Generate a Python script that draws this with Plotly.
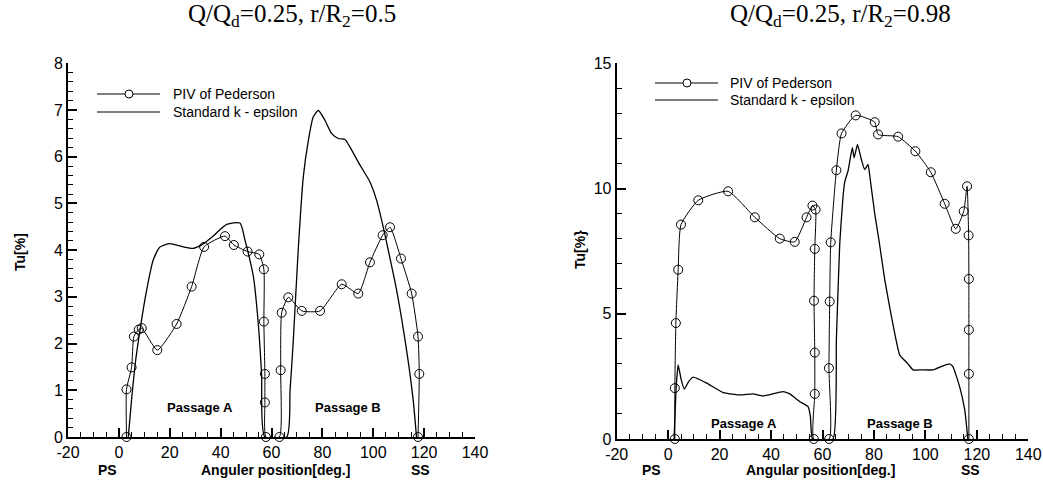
import plotly.graph_objects as go

# ---------------- data: left panel (r/R2 = 0.5) ----------------
piv_l_x = [3.0, 3.0, 5.0, 5.9, 7.8, 9.0, 15.1, 22.7, 28.6, 33.5, 41.7, 45.2, 50.6, 55.2,
           57.0, 57.0, 57.4, 57.4, 57.8, 63.1, 63.6, 64.0, 66.6, 71.9, 79.1, 87.6, 94.1,
           98.7, 103.7, 106.6, 110.9, 115.1, 117.6, 118.1, 117.6]
piv_l_y = [0, 1.02, 1.49, 2.15, 2.30, 2.33, 1.86, 2.42, 3.22, 4.07, 4.30, 4.11, 3.97, 3.91,
           3.59, 2.47, 1.35, 0.74, 0, 0, 1.43, 2.66, 2.99, 2.70, 2.70, 3.27, 3.07,
           3.74, 4.32, 4.49, 3.82, 3.07, 2.15, 1.35, 0]

ke_l_x = [3.7, 5.0, 6.5, 8.3, 10.9, 13.5, 16.2, 20.0, 25.3, 29.3, 33.3, 37.0, 42.4, 47.6,
          49.6, 50.9, 52.9, 54.8, 56.1, 57.4, 66.0, 67.3, 68.5, 70.5, 72.5, 74.5, 76.4,
          78.4, 81.0, 83.6, 86.3, 88.9, 90.8, 94.8, 98.7, 101.3, 103.9, 105.9, 109.2,
          113.1, 115.7, 117.0]
ke_l_y = [0, 0.8, 1.6, 2.29, 3.14, 3.79, 4.07, 4.14, 4.07, 4.04, 4.14, 4.30, 4.55, 4.58,
          4.21, 3.93, 3.43, 2.43, 1.36, 0, 0, 1.0, 2.0, 4.0, 5.57, 6.35, 6.85,
          6.99, 6.78, 6.50, 6.39, 6.37, 6.21, 5.82, 5.46, 5.07, 4.50, 4.00, 3.14,
          1.86, 0.79, 0]

# ---------------- data: right panel (r/R2 = 0.98) ----------------
piv_r_x = [2.6, 2.6, 3.0, 3.9, 5.0, 11.7, 23.3, 33.7, 43.4, 49.2, 53.8, 56.1, 57.3, 57.0,
           56.7, 57.0, 57.0, 56.6, 62.6, 62.5, 62.8, 63.2, 65.4, 67.4, 72.9, 80.3, 81.6,
           89.4, 96.1, 102.1, 107.5, 111.8, 114.9, 116.2, 116.8, 116.9, 116.9, 116.9, 116.9]
piv_r_y = [0, 2.03, 4.63, 6.76, 8.56, 9.53, 9.89, 8.85, 8.00, 7.87, 8.85, 9.32, 9.16, 7.59,
           5.52, 3.45, 1.80, 0, 0, 2.83, 5.49, 7.85, 10.73, 12.20, 12.92, 12.65, 12.16,
           12.07, 11.49, 10.65, 9.39, 8.39, 9.09, 10.09, 8.13, 6.39, 4.36, 2.60, 0]

ke_r_x = [2.3, 3.2, 3.9, 5.0, 6.3, 8.0, 9.8, 15.0, 21.4, 27.9, 33.1, 36.9, 44.7, 47.3,
          51.2, 54.4, 55.3, 56.1, 64.1, 65.4, 66.7, 68.0, 68.7, 69.9, 71.6, 72.3, 73.6,
          75.1, 76.4, 77.7, 78.4, 80.3, 82.0, 84.2, 86.8, 90.0, 93.2, 95.2, 99.1, 103.0,
          106.8, 109.4, 110.7, 113.3, 115.3, 116.5]
ke_r_y = [0, 2.2, 2.96, 2.4, 1.99, 2.3, 2.47, 2.23, 1.85, 1.76, 1.80, 1.72, 1.89, 1.80,
          1.49, 1.29, 0.89, 0, 0, 4.0, 7.8, 9.7, 10.29, 10.69, 11.63, 11.23, 11.76,
          11.16, 10.76, 10.96, 10.49, 9.0, 7.9, 6.36, 4.89, 3.36, 3.0, 2.76, 2.76, 2.76,
          2.92, 3.0, 2.89, 2.09, 1.16, 0]

x_ticks = [-20, 0, 20, 40, 60, 80, 100, 120, 140]
x_ticktext = [str(v) for v in x_ticks]
titles = ["Q/Q<sub>d</sub>=0.25, r/R<sub>2</sub>=0.5", "Q/Q<sub>d</sub>=0.25, r/R<sub>2</sub>=0.98"]
xlabels = ["Anguler position[deg.]", "Angular position[deg.]"]
ylabels = ["Tu[%]", "Tu[%}"]
legend_names = ["PIV of Pederson", "Standard k - epsilon"]

W, H = 1043, 486
SANS = "Liberation Sans, Arial, sans-serif"
SERIF = "Liberation Serif, Times New Roman, serif"


def fx(px):
    return px / W


def fy(py):
    return (H - py) / H


fig = go.Figure()


def add_panel(px, py, kx, ky, xa, ya, smooth_piv, smooth_ke):
    fig.add_trace(go.Scatter(x=kx, y=ky, mode="lines", xaxis=xa, yaxis=ya,
                             line=dict(color="black", width=1.3, shape="spline", smoothing=smooth_ke),
                             cliponaxis=False, showlegend=False, name=legend_names[1]))
    fig.add_trace(go.Scatter(x=px, y=py, mode="lines+markers", xaxis=xa, yaxis=ya,
                             line=dict(color="black", width=1, shape="spline", smoothing=smooth_piv),
                             marker=dict(symbol="circle-open", size=9, color="black", line=dict(width=1)),
                             cliponaxis=False, showlegend=False, name=legend_names[0]))


add_panel(piv_l_x, piv_l_y, ke_l_x, ke_l_y, "x", "y", 0.5, 0.6)
add_panel(piv_r_x, piv_r_y, ke_r_x, ke_r_y, "x2", "y2", 0.5, 0.4)

axis_common = dict(showline=True, linewidth=2, linecolor="black", ticks="inside",
                   ticklen=9, tickwidth=2, tickcolor="black", showgrid=False, zeroline=False,
                   automargin=False,
                   tickfont=dict(family=SANS, size=16, color="black"))

# window-pixel geometry of plot areas
L = dict(x0=68, x1=475, ytop=63.3, ybot=437)
R = dict(x0=616.7, x1=1028.3, ytop=63.3, ybot=439)


def xdom(p):
    return [fx(p["x0"]), fx(p["x1"])]


def ydom(p):
    return [fy(p["ybot"]), fy(p["ytop"])]


fig.update_layout(
    template="none",
    width=W, height=H, margin=dict(l=0, r=0, t=0, b=0, pad=0, autoexpand=False),
    paper_bgcolor="white", plot_bgcolor="white", showlegend=False,
    xaxis=dict(domain=xdom(L), range=[-20, 140], tickvals=x_ticks, ticktext=x_ticktext, anchor="y",
               minor=dict(ticks="inside", ticklen=5, tickwidth=1, tickcolor="black", dtick=5, tick0=0),
               **axis_common),
    yaxis=dict(domain=ydom(L), range=[0, 8], dtick=1, anchor="x",
               minor=dict(ticks="inside", ticklen=5, tickwidth=1, tickcolor="black", dtick=0.2, tick0=0),
               **axis_common),
    xaxis2=dict(domain=xdom(R), range=[-20, 140], tickvals=x_ticks, ticktext=x_ticktext, anchor="y2",
                minor=dict(ticks="inside", ticklen=5, tickwidth=1, tickcolor="black", dtick=5, tick0=0),
                **axis_common),
    yaxis2=dict(domain=ydom(R), range=[0, 15], dtick=5, anchor="x2",
                minor=dict(ticks="inside", ticklen=5, tickwidth=1, tickcolor="black", dtick=1, tick0=0),
                **axis_common),
)

ann = []
shapes = []

# titles
for cx, t in zip([292, 840], titles):
    ann.append(dict(text=t, x=fx(cx), y=fy(16), xref="paper", yref="paper",
                    xanchor="center", yanchor="middle", showarrow=False,
                    font=dict(family=SERIF, size=25, color="black")))

# y axis titles
for cx, cy, t in zip([20, 580], [252, 250], ylabels):
    ann.append(dict(text="<b>%s</b>" % t, x=fx(cx), y=fy(cy), xref="paper", yref="paper",
                    textangle=-90, xanchor="center", yanchor="middle", showarrow=False,
                    font=dict(family=SANS, size=14, color="black")))

# x axis titles and PS / SS
bottom = [(107, "PS"), (275, xlabels[0]), (420, "SS"), (651, "PS"), (820, xlabels[1]), (970, "SS")]
for cx, t in bottom:
    ann.append(dict(text="<b>%s</b>" % t, x=fx(cx), y=fy(470), xref="paper", yref="paper",
                    xanchor="center", yanchor="middle", showarrow=False,
                    font=dict(family=SANS, size=14, color="black")))

# passage labels (data coordinates)
for xa, ya, px, py, t in [("x", "y", 32, 0.64, "Passage A"), ("x", "y", 90, 0.63, "Passage B"),
                          ("x2", "y2", 29.5, 0.6, "Passage A"), ("x2", "y2", 90, 0.6, "Passage B")]:
    ann.append(dict(text="<b>%s</b>" % t, x=px, y=py, xref=xa, yref=ya, xanchor="center",
                    yanchor="middle", showarrow=False, font=dict(family=SANS, size=13, color="black")))


# manual legends (window pixel positions)
def legend(p, xr, yr, lx0, lx1, mx, y1, y2, tx):
    def dx(v):
        return (v - p["x0"]) / (p["x1"] - p["x0"])

    def dy(v):
        return (p["ybot"] - v) / (p["ybot"] - p["ytop"])

    for yy in (y1, y2):
        shapes.append(dict(type="line", xref=xr + " domain", yref=yr + " domain",
                           x0=dx(lx0), x1=dx(lx1), y0=dy(yy), y1=dy(yy),
                           line=dict(color="black", width=1)))
    shapes.append(dict(type="circle", xref=xr + " domain", yref=yr + " domain",
                       xsizemode="pixel", ysizemode="pixel", xanchor=dx(mx), yanchor=dy(y1),
                       x0=-4, x1=4, y0=-4, y1=4, fillcolor="white",
                       line=dict(color="black", width=1)))
    for yy, name in zip((y1, y2), legend_names):
        ann.append(dict(text=name, x=dx(tx), y=dy(yy), xref=xr + " domain", yref=yr + " domain",
                        xanchor="left", yanchor="middle", showarrow=False,
                        font=dict(family=SANS, size=14, color="black")))


legend(L, "x", "y", 97, 160, 129, 94, 112, 171)
legend(R, "x2", "y2", 655, 718, 687, 83, 100, 728)

fig.update_layout(annotations=ann, shapes=shapes)
# remove the default 8 px page margin so the 1043x486 figure fills the window exactly
fig.write_html("out.html",
               config={"displayModeBar": False, "staticPlot": False},
               post_script="document.body.style.margin='0';document.body.style.overflow='hidden';")
